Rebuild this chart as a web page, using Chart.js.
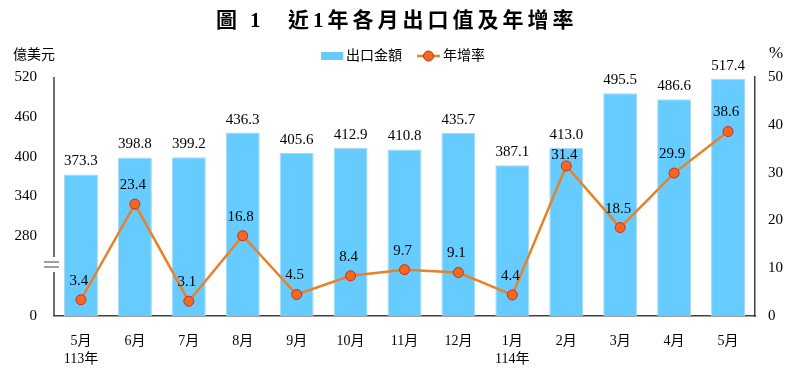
<!DOCTYPE html>
<html>
<head>
<meta charset="utf-8">
<script src="https://cdn.jsdelivr.net/npm/chart.js@4.4.1/dist/chart.umd.min.js"></script>
<style>
  html, body { margin: 0; padding: 0; background: #fff; }
  #wrap { width: 805px; height: 369px; }
</style>
</head>
<body>
<div id="wrap"><canvas id="exportChart" width="805" height="369"></canvas></div>
<script>
const months = [['5月', '113年'], '6月', '7月', '8月', '9月', '10月', '11月', '12月', ['1月', '114年'], '2月', '3月', '4月', '5月'];
const exportValues = [373.3, 398.8, 399.2, 436.3, 405.6, 412.9, 410.8, 435.7, 387.1, 413.0, 495.5, 486.6, 517.4];
const growthRates = [3.4, 23.4, 3.1, 16.8, 4.5, 8.4, 9.7, 9.1, 4.4, 31.4, 18.5, 29.9, 38.6];
const leftTicks = [0, 280, 340, 400, 460, 520];
const rightTicks = [0, 10, 20, 30, 40, 50];

const SERIF = '"Liberation Serif", "Noto Sans CJK TC", serif';

// left axis is broken: 0..280 squeezed, 280..520 linear
function toAxis(v) {
    if (v <= 280) {
        return v * 80 / 280;
    }
    return 80 + (v - 280) * 40 / 60;
}

const BAR_COLOR = '#66CCFF';
const LINE_COLOR = '#E8822A';
const AXIS_COLOR = '#404040';

const decorPlugin = {
    id: 'decor',
    afterDatasetsDraw(chart) {
        const ctx = chart.ctx;
        const area = chart.chartArea;
        ctx.save();

        // left axis line with break marks
        ctx.strokeStyle = AXIS_COLOR;
        ctx.lineWidth = 1.5;
        ctx.beginPath();
        ctx.moveTo(area.left, area.top);
        ctx.lineTo(area.left, 257);
        ctx.moveTo(area.left, 272);
        ctx.lineTo(area.left, area.bottom);
        ctx.stroke();
        ctx.lineWidth = 1.2;
        ctx.beginPath();
        ctx.moveTo(44, 262);
        ctx.lineTo(59, 262);
        ctx.moveTo(44, 267);
        ctx.lineTo(59, 267);
        ctx.stroke();

        // bar value labels
        ctx.fillStyle = '#000';
        ctx.font = '15px ' + SERIF;
        ctx.textAlign = 'center';
        ctx.textBaseline = 'middle';
        const barMeta = chart.getDatasetMeta(0);
        const lineMeta = chart.getDatasetMeta(1);
        const barLabelY = [];
        barMeta.data.forEach((bar, i) => {
            const y = bar.y - 13;
            barLabelY.push(y);
            ctx.fillText(exportValues[i].toFixed(1), bar.x, y);
        });

        // growth rate labels
        lineMeta.data.forEach((pt, i) => {
            let y = pt.y - 19;
            if (Math.abs(y - barLabelY[i]) < 16) {
                y = barLabelY[i] + 20;
            }
            ctx.fillText(growthRates[i].toFixed(1), pt.x - 2, y);
        });

        // title
        ctx.fillStyle = '#000';
        ctx.textAlign = 'left';
        ctx.font = 'bold 21px ' + SERIF;
        ctx.fillText('圖', 216, 22);
        ctx.fillText('1', 250, 22);
        ctx.letterSpacing = '4px';
        ctx.fillText('近1年各月出口值及年增率', 288, 22);
        ctx.letterSpacing = '0px';

        // unit labels
        ctx.font = '14px ' + SERIF;
        ctx.fillText('億美元', 13, 55);
        ctx.font = '17px ' + SERIF;
        ctx.fillText('%', 769, 54);

        // legend
        ctx.fillStyle = BAR_COLOR;
        ctx.fillRect(321, 52, 22, 8);
        ctx.fillStyle = '#000';
        ctx.font = '14px ' + SERIF;
        ctx.fillText('出口金額', 346, 56);
        ctx.strokeStyle = LINE_COLOR;
        ctx.lineWidth = 2.5;
        ctx.beginPath();
        ctx.moveTo(417, 56);
        ctx.lineTo(440, 56);
        ctx.stroke();
        ctx.beginPath();
        ctx.arc(428.5, 56, 5, 0, Math.PI * 2);
        ctx.fillStyle = '#F26A21';
        ctx.fill();
        ctx.strokeStyle = '#E0201B';
        ctx.lineWidth = 1;
        ctx.stroke();
        ctx.fillStyle = '#000';
        ctx.fillText('年增率', 443, 56);

        ctx.restore();
    }
};

new Chart(document.getElementById('exportChart'), {
    plugins: [decorPlugin],
    data: {
        labels: months,
        datasets: [
            {
                type: 'bar',
                label: '出口金額',
                data: exportValues.map(toAxis),
                backgroundColor: BAR_COLOR,
                borderColor: '#A9D9F2',
                borderWidth: 1,
                barPercentage: 0.63,
                categoryPercentage: 1,
                yAxisID: 'y',
                order: 1
            },
            {
                type: 'line',
                label: '年增率',
                data: growthRates,
                borderColor: LINE_COLOR,
                borderWidth: 2.5,
                pointRadius: 5,
                pointBackgroundColor: '#F26A21',
                pointBorderColor: '#E0201B',
                pointBorderWidth: 1,
                tension: 0,
                yAxisID: 'y1',
                order: 0
            }
        ]
    },
    options: {
        responsive: false,
        animation: false,
        events: [],
        layout: { padding: { top: 77, left: 0, right: 0, bottom: 0 } },
        plugins: {
            legend: { display: false },
            title: { display: false },
            tooltip: { enabled: false }
        },
        scales: {
            x: {
                grid: { display: false, drawTicks: false },
                border: { display: true, color: AXIS_COLOR, width: 1.5 },
                ticks: {
                    color: '#000',
                    font: { family: SERIF, size: 14, lineHeight: 1.3 },
                    padding: 16,
                    maxRotation: 0,
                    autoSkip: false
                },
                afterFit(scale) { scale.height = 53; }
            },
            y: {
                position: 'left',
                min: 0,
                max: 240,
                grid: { display: false, drawTicks: false },
                border: { display: false },
                afterBuildTicks(scale) {
                    scale.ticks = leftTicks.map(v => ({ value: toAxis(v) }));
                },
                ticks: {
                    color: '#000',
                    font: { family: SERIF, size: 15 },
                    padding: 17,
                    callback(value) {
                        const idx = leftTicks.findIndex(v => toAxis(v) === value);
                        return idx >= 0 ? String(leftTicks[idx]) : '';
                    }
                },
                afterFit(scale) { scale.width = 54; }
            },
            y1: {
                position: 'right',
                min: 0,
                max: 50,
                grid: { display: false, drawTicks: false },
                border: { display: true, color: AXIS_COLOR, width: 1.5 },
                afterBuildTicks(scale) {
                    scale.ticks = rightTicks.map(v => ({ value: v }));
                },
                ticks: {
                    color: '#000',
                    font: { family: SERIF, size: 15 },
                    padding: 13
                },
                afterFit(scale) { scale.width = 50; }
            }
        }
    }
});
</script>
</body>
</html>
